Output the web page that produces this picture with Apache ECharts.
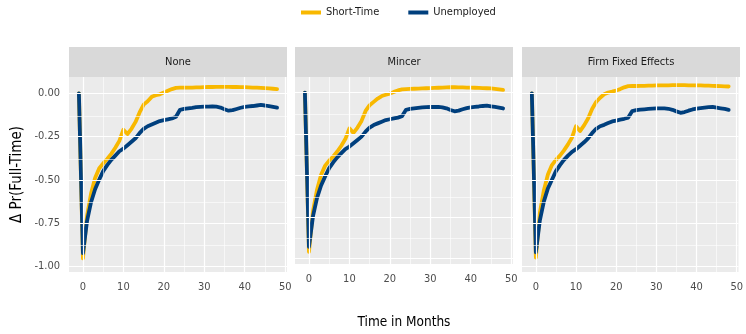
<!DOCTYPE html>
<html>
<head>
<meta charset="utf-8">
<script src="https://cdn.jsdelivr.net/npm/echarts@6/dist/echarts.min.js"></script>
<style>html,body{margin:0;padding:0;background:#fff}#c{width:746px;height:334px}</style>
</head>
<body>
<div id="c"></div>
<script>
const panels = ['None', 'Mincer', 'Firm Fixed Effects'];
const seriesNames = ['Short-Time', 'Unemployed'];
const months = [-1,0,1,2,3,4,5,6,7,8,9,10,11,12,13,14,15,16,17,18,19,20,21,22,23,24,25,26,27,28,29,30,31,32,33,34,35,36,37,38,39,40,41,42,43,44,45,46,47,48];

const noneShort = [0,-0.955,-0.71,-0.58,-0.49,-0.435,-0.405,-0.38,-0.35,-0.315,-0.275,-0.21,-0.235,-0.205,-0.165,-0.11,-0.065,-0.045,-0.02,-0.01,-0.005,0.005,0.015,0.025,0.032,0.033,0.033,0.034,0.034,0.035,0.035,0.036,0.037,0.037,0.038,0.038,0.038,0.038,0.037,0.037,0.036,0.036,0.035,0.034,0.033,0.032,0.031,0.029,0.027,0.025];
const noneUnemp = [0,-0.925,-0.74,-0.63,-0.555,-0.5,-0.45,-0.415,-0.385,-0.36,-0.335,-0.32,-0.3,-0.28,-0.26,-0.23,-0.205,-0.19,-0.18,-0.17,-0.16,-0.155,-0.15,-0.145,-0.135,-0.095,-0.09,-0.087,-0.084,-0.08,-0.078,-0.077,-0.076,-0.075,-0.077,-0.082,-0.092,-0.1,-0.097,-0.09,-0.083,-0.078,-0.075,-0.073,-0.07,-0.067,-0.07,-0.074,-0.078,-0.082];
const mincerShort = [0,-0.96,-0.715,-0.585,-0.495,-0.44,-0.41,-0.385,-0.355,-0.32,-0.28,-0.215,-0.243,-0.21,-0.17,-0.11,-0.075,-0.055,-0.035,-0.02,-0.012,-0.005,0.005,0.014,0.02,0.022,0.023,0.024,0.025,0.026,0.027,0.028,0.029,0.03,0.031,0.032,0.033,0.033,0.032,0.032,0.031,0.031,0.03,0.029,0.028,0.027,0.026,0.023,0.02,0.017];
const mincerUnemp = [0,-0.93,-0.745,-0.635,-0.56,-0.505,-0.455,-0.42,-0.39,-0.365,-0.34,-0.325,-0.305,-0.285,-0.265,-0.235,-0.21,-0.195,-0.185,-0.175,-0.165,-0.16,-0.155,-0.15,-0.142,-0.103,-0.098,-0.095,-0.092,-0.089,-0.087,-0.086,-0.086,-0.086,-0.088,-0.094,-0.104,-0.112,-0.108,-0.1,-0.093,-0.088,-0.085,-0.083,-0.08,-0.078,-0.082,-0.086,-0.09,-0.095];
const ffeShort = [0,-0.95,-0.69,-0.56,-0.47,-0.415,-0.385,-0.36,-0.33,-0.295,-0.255,-0.19,-0.218,-0.185,-0.145,-0.09,-0.05,-0.025,-0.005,0.005,0.01,0.017,0.025,0.035,0.042,0.043,0.043,0.044,0.044,0.045,0.045,0.046,0.046,0.047,0.047,0.048,0.048,0.048,0.048,0.047,0.047,0.046,0.046,0.045,0.045,0.044,0.043,0.042,0.041,0.04];
const ffeUnemp = [0,-0.92,-0.735,-0.625,-0.55,-0.5,-0.45,-0.415,-0.385,-0.36,-0.338,-0.323,-0.303,-0.283,-0.26,-0.23,-0.205,-0.19,-0.182,-0.172,-0.162,-0.157,-0.152,-0.147,-0.14,-0.102,-0.097,-0.094,-0.092,-0.09,-0.088,-0.087,-0.087,-0.087,-0.089,-0.095,-0.104,-0.112,-0.108,-0.1,-0.093,-0.088,-0.085,-0.082,-0.079,-0.078,-0.082,-0.086,-0.09,-0.095];

const xBreaks = [0, 10, 20, 30, 40, 50];
const xMinorBreaks = [5, 15, 25, 35, 45];
const yBreaks = [-1, -0.75, -0.5, -0.25, 0];
const yMinorBreaks = [-0.875, -0.625, -0.375, -0.125];

const panelShort = [noneShort, mincerShort, ffeShort];
const panelUnemp = [noneUnemp, mincerUnemp, ffeUnemp];

const COLORS = ['#F8B800', '#003F7D'];
const FONT = "'Liberation Sans Narrow', 'DejaVu Sans Condensed', 'DejaVu Sans', sans-serif";
const lefts = [69, 295, 522];
const W = 218, TOP = 77, H = 195;

const grids = [], xAxes = [], yAxes = [], series = [], graphics = [];
lefts.forEach((l, i) => {
  grids.push({left: l, top: TOP, width: W, height: H, show: true, backgroundColor: '#EBEBEB', borderWidth: 0});
  xAxes.push({
    type: 'value', gridIndex: i, min: -3.45, max: 50.45,
    axisLine: {show: false},
    axisTick: {show: true, customValues: xBreaks, length: 4, lineStyle: {color: '#333333', width: 1}},
    axisLabel: {show: true, customValues: xBreaks, color: '#4D4D4D', fontSize: 11, fontFamily: FONT, margin: 10},
    splitLine: {show: false},
    name: i === 1 ? 'Time in Months' : '', nameLocation: 'middle', nameGap: 51,
    nameTextStyle: {fontSize: 13.5, color: '#000', fontFamily: FONT}
  });
  yAxes.push({
    type: 'value', gridIndex: i, min: -1.034, max: 0.095,
    axisLine: {show: false},
    axisTick: {show: i === 0, customValues: yBreaks, length: 4, lineStyle: {color: '#333333', width: 1}},
    axisLabel: {show: i === 0, customValues: yBreaks, color: '#4D4D4D', fontSize: 11, fontFamily: FONT, margin: 9,
      formatter: v => v.toFixed(2)},
    splitLine: {show: false},
    name: i === 0 ? 'Δ Pr(Full-Time)' : '', nameLocation: 'middle', nameGap: 44, nameRotate: 90,
    nameTextStyle: {fontSize: 15, color: '#000', fontFamily: FONT}
  });
  const ml = [];
  xMinorBreaks.forEach(v => ml.push({xAxis: v, lineStyle: {color: '#FFFFFF', width: 0.6, type: 'solid'}}));
  yMinorBreaks.forEach(v => ml.push({yAxis: v, lineStyle: {color: '#FFFFFF', width: 0.6, type: 'solid'}}));
  xBreaks.forEach(v => ml.push({xAxis: v, lineStyle: {color: '#FFFFFF', width: 1.2, type: 'solid'}}));
  yBreaks.forEach(v => ml.push({yAxis: v, lineStyle: {color: '#FFFFFF', width: 1.2, type: 'solid'}}));
  series.push({
    type: 'line', xAxisIndex: i, yAxisIndex: i, data: [], z: 1, silent: true,
    markLine: {silent: true, symbol: ['none', 'none'], label: {show: false}, animation: false, data: ml}
  });
  [panelShort[i], panelUnemp[i]].forEach((arr, k) => {
    series.push({
      name: seriesNames[k], type: 'line', xAxisIndex: i, yAxisIndex: i, z: 3 + k,
      data: months.map((m, j) => [m, arr[j]]),
      showSymbol: false, symbol: 'none', smooth: false,
      lineStyle: {color: COLORS[k], width: 3.8, cap: 'round', join: 'round'},
      itemStyle: {color: COLORS[k]}, animation: false
    });
  });
  graphics.push({type: 'rect', left: l, top: 47, shape: {width: W, height: 30}, style: {fill: '#D9D9D9'}, z: 0});
  graphics.push({type: 'text', x: l + W / 2, y: 62, style: {text: panels[i], fill: '#1A1A1A', font: '11px ' + FONT, textAlign: 'center', textVerticalAlign: 'middle'}});
});

const chart = echarts.init(document.getElementById('c'), null, {renderer: 'canvas'});
chart.setOption({
  animation: false,
  backgroundColor: '#FFFFFF',
  textStyle: {fontFamily: FONT},
  legend: {
    data: seriesNames, left: 296, top: 2, itemWidth: 20, itemHeight: 4, itemGap: 29, icon: 'rect',
    textStyle: {fontSize: 11, color: '#1A1A1A', fontFamily: FONT}
  },
  grid: grids, xAxis: xAxes, yAxis: yAxes, series: series, graphic: graphics
});
</script>
</body>
</html>
